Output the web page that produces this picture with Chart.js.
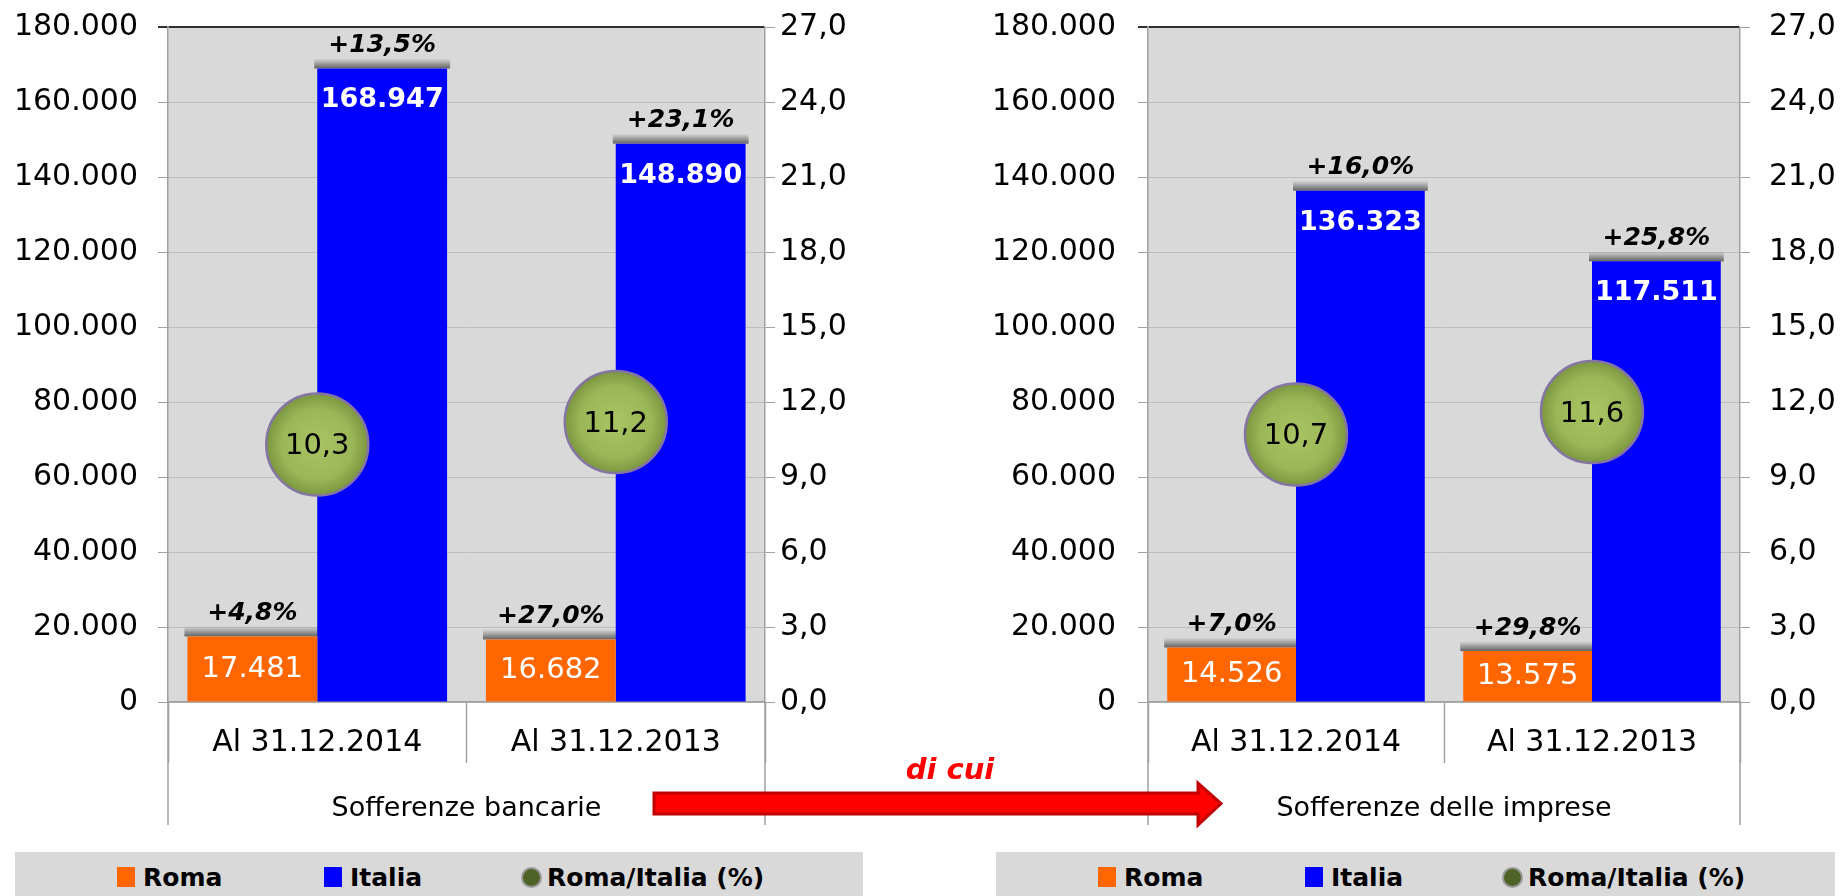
<!DOCTYPE html>
<html>
<head>
<meta charset="utf-8">
<script src="https://cdn.jsdelivr.net/npm/chart.js@4.4.1/dist/chart.umd.min.js"></script>
<style>
  body { margin: 0; width: 1843px; height: 896px; background: #fff; position: relative; overflow: hidden; font-family: 'DejaVu Sans', sans-serif; }
  .panel { position: absolute; top: 0; height: 850px; }
  .legend { position: absolute; top: 852px; height: 44px; background: #d9d9d9; }
  .lg { position: absolute; top: 0; height: 44px; padding-top: 6px; box-sizing: border-box; display: flex; align-items: center; font: bold 25px 'DejaVu Sans', sans-serif; color: #000; white-space: nowrap; }
  .sq { display: inline-block; width: 18px; height: 20px; margin-right: 8px; }
  .dot { display: inline-block; width: 17px; height: 17px; border-radius: 50%; background: #4f6228; border: 2px solid #9a9a9a; margin-right: 5px; }
  #dicui { position: absolute; left: 890px; top: 752px; width: 120px; text-align: center; line-height: 36px; color: #ff0000; font: italic bold 29px 'DejaVu Sans', sans-serif; }
</style>
</head>
<body>
<div class="panel" style="left:0;width:870px"><canvas id="bancarie"></canvas></div>
<div class="panel" style="left:880px;width:963px"><canvas id="imprese"></canvas></div>
<div class="legend" id="legendLeft" style="left:15px;width:848px"></div>
<div class="legend" id="legendRight" style="left:996px;width:839px"></div>
<svg width="1843" height="896" style="position:absolute;left:0;top:0;pointer-events:none">
  <polygon points="654,793 1198,793 1198,783 1221,803.5 1198,825 1198,814 654,814" fill="#ff0000" stroke="#c00000" stroke-width="3"/>
</svg>
<div id="dicui">di cui</div>
<script>
const categories = ['Al 31.12.2014', 'Al 31.12.2013'];
const seriesNames = ['Roma', 'Italia', 'Roma/Italia (%)'];

// Sofferenze bancarie
const bancarieRoma = [17481, 16682];
const bancarieItalia = [168947, 148890];
const bancarieQuota = [10.3, 11.2];
const bancarieVarRoma = ['+4,8%', '+27,0%'];
const bancarieVarItalia = ['+13,5%', '+23,1%'];

// Sofferenze delle imprese
const impreseRoma = [14526, 13575];
const impreseItalia = [136323, 117511];
const impreseQuota = [10.7, 11.6];
const impreseVarRoma = ['+7,0%', '+29,8%'];
const impreseVarItalia = ['+16,0%', '+25,8%'];

const leftMax = 180000, leftStep = 20000;
const rightMax = 27, rightStep = 3;

Chart.defaults.font.family = "'DejaVu Sans', sans-serif";
Chart.defaults.color = '#000';

function fmtThousands(v) {
    return String(Math.round(v)).replace(/\B(?=(\d{3})+(?!\d))/g, '.');
}
function fmtDecimal(v) {
    return v.toFixed(1).replace('.', ',');
}

// shaded green ball, centred on the point the scales give
function ballFill(c) {
    const {chart} = c;
    if (!chart.chartArea || c.raw === undefined) return '#9bbb59';
    const x = chart.scales.x.getPixelForValue(c.dataIndex);
    const y = chart.scales.y1.getPixelForValue(c.raw);
    const g = chart.ctx.createRadialGradient(x, y, 0, x, y, 51);
    g.addColorStop(0, '#a9c463');
    g.addColorStop(0.7, '#9ab656');
    g.addColorStop(1, '#7c9640');
    return g;
}

// grey plot background + frame lines running down past the axis
const plotFrame = {
    id: 'plotFrame',
    beforeDraw(chart) {
        const {ctx, chartArea: a} = chart;
        ctx.save();
        ctx.fillStyle = '#d9d9d9';
        ctx.fillRect(a.left, a.top, a.right - a.left, a.bottom - a.top);
        ctx.restore();
    },
    afterDraw(chart) {
        const {ctx, chartArea: a} = chart;
        ctx.save();
        ctx.strokeStyle = '#a0a0a0';
        ctx.lineWidth = 1.5;
        [a.left, a.right].forEach(x => {
            ctx.beginPath();
            ctx.moveTo(x, a.bottom);
            ctx.lineTo(x, a.bottom + 123);
            ctx.stroke();
        });
        ctx.restore();
    }
};

// soft shadow band on top of each bar
const barShadow = {
    id: 'barShadow',
    beforeDatasetsDraw(chart) {
        const ctx = chart.ctx;
        ctx.save();
        chart.data.datasets.forEach((ds, i) => {
            if (ds.type !== 'bar') return;
            chart.getDatasetMeta(i).data.forEach(bar => {
                const g = ctx.createLinearGradient(0, bar.y - 10, 0, bar.y);
                g.addColorStop(0, 'rgba(70,70,70,0)');
                g.addColorStop(1, 'rgba(70,70,70,0.8)');
                ctx.fillStyle = g;
                ctx.fillRect(bar.x - bar.width / 2 - 3, bar.y - 10, bar.width + 6, 10);
            });
        });
        ctx.restore();
    }
};

const valueLabels = {
    id: 'valueLabels',
    afterDatasetsDraw(chart, args, opts) {
        const ctx = chart.ctx;
        const ds = chart.data.datasets;
        ctx.save();
        ctx.textAlign = 'center';
        ctx.textBaseline = 'middle';
        chart.getDatasetMeta(0).data.forEach((bar, i) => {
            ctx.fillStyle = '#fff';
            ctx.font = "29px 'DejaVu Sans'";
            ctx.fillText(fmtThousands(ds[0].data[i]), bar.x, (bar.y + bar.base) / 2);
            ctx.fillStyle = '#000';
            ctx.font = "italic bold 25px 'DejaVu Sans'";
            ctx.fillText(opts.varRoma[i], bar.x, bar.y - 23);
        });
        chart.getDatasetMeta(1).data.forEach((bar, i) => {
            ctx.fillStyle = '#fff';
            ctx.font = "bold 27px 'DejaVu Sans'";
            ctx.fillText(fmtThousands(ds[1].data[i]), bar.x, bar.y + 32);
            ctx.fillStyle = '#000';
            ctx.font = "italic bold 25px 'DejaVu Sans'";
            ctx.fillText(opts.varItalia[i], bar.x, bar.y - 23);
        });
        chart.getDatasetMeta(2).data.forEach((pt, i) => {
            ctx.fillStyle = '#000';
            ctx.font = "29px 'DejaVu Sans'";
            ctx.fillText(fmtDecimal(ds[2].data[i]), pt.x, pt.y + 2);
        });
        ctx.restore();
    }
};

function drawPanel(id, p) {
    return new Chart(document.getElementById(id), {
        data: {
            labels: categories,
            datasets: [
                {
                    type: 'bar',
                    label: seriesNames[0],
                    data: p.roma,
                    backgroundColor: '#ff6600',
                    yAxisID: 'y',
                    order: 1,
                },
                {
                    type: 'bar',
                    label: seriesNames[1],
                    data: p.italia,
                    backgroundColor: '#0000ff',
                    yAxisID: 'y',
                    order: 1,
                },
                {
                    type: 'line',
                    label: seriesNames[2],
                    data: p.quota,
                    yAxisID: 'y1',
                    showLine: false,
                    pointRadius: 51,
                    pointBackgroundColor: ballFill,
                    pointBorderColor: '#8575a3',
                    pointBorderWidth: 2.5,
                    order: 0,
                }
            ]
        },
        options: {
            responsive: true,
            maintainAspectRatio: false,
            animation: false,
            events: [],
            categoryPercentage: 0.87,
            barPercentage: 1.0,
            layout: {
                autoPadding: false,
                padding: {top: 27, left: 0, right: 0, bottom: 0}
            },
            scales: {
                x: {
                    offset: true,
                    grid: {
                        offset: true,
                        drawOnChartArea: false,
                        tickLength: 61,
                        tickColor: '#a0a0a0',
                        tickWidth: 1.5,
                    },
                    border: {color: '#a0a0a0', width: 1.5},
                    ticks: {
                        padding: -38,
                        font: {size: 30},
                    },
                    title: {
                        display: true,
                        text: p.title,
                        font: {size: 27},
                        padding: {top: 0, bottom: 25},
                    },
                    afterFit: s => {
                        s.height = 148;
                        s.paddingLeft = 0;
                        s.paddingRight = 0;
                    }
                },
                y: {
                    position: 'left',
                    min: 0,
                    max: leftMax,
                    ticks: {
                        stepSize: leftStep,
                        padding: p.leftPad,
                        font: {size: 30},
                        callback: v => fmtThousands(v),
                    },
                    grid: {
                        color: c => c.tick.value === leftMax ? '#303030' : '#bdbdbd',
                        lineWidth: c => c.tick.value === leftMax ? 2 : 1,
                        tickColor: c => c.tick.value === leftMax ? '#303030' : '#a0a0a0',
                        tickLength: 10,
                    },
                    border: {color: '#a0a0a0', width: 1.5},
                    afterFit: s => {
                        s.width = p.leftWidth;
                        s.paddingTop = 0;
                        s.paddingBottom = 0;
                    }
                },
                y1: {
                    position: 'right',
                    min: 0,
                    max: rightMax,
                    ticks: {
                        stepSize: rightStep,
                        padding: p.rightPad,
                        font: {size: 30},
                        callback: v => fmtDecimal(v),
                    },
                    grid: {
                        drawOnChartArea: false,
                        tickLength: 10,
                        tickColor: '#a0a0a0',
                    },
                    border: {color: '#a0a0a0', width: 1.5},
                    afterFit: s => {
                        s.width = p.rightWidth;
                        s.paddingTop = 0;
                        s.paddingBottom = 0;
                    }
                }
            },
            plugins: {
                legend: {display: false},
                tooltip: {enabled: false},
                valueLabels: {varRoma: p.varRoma, varItalia: p.varItalia},
            }
        },
        plugins: [plotFrame, barShadow, valueLabels]
    });
}

function buildLegend(el, chart) {
    const lefts = [102, 309, 506];
    chart.data.datasets.forEach((ds, i) => {
        const item = document.createElement('div');
        item.className = 'lg';
        item.style.left = lefts[i] + 'px';
        const mark = document.createElement('i');
        if (ds.type === 'bar') {
            mark.className = 'sq';
            mark.style.background = ds.backgroundColor;
        } else {
            mark.className = 'dot';
        }
        item.appendChild(mark);
        item.appendChild(document.createTextNode(ds.label));
        el.appendChild(item);
    });
}

const leftChart = drawPanel('bancarie', {
    title: 'Sofferenze bancarie',
    roma: bancarieRoma,
    italia: bancarieItalia,
    quota: bancarieQuota,
    varRoma: bancarieVarRoma,
    varItalia: bancarieVarItalia,
    leftWidth: 168, leftPad: 20,
    rightWidth: 105, rightPad: 5,
});

const rightChart = drawPanel('imprese', {
    title: 'Sofferenze delle imprese',
    roma: impreseRoma,
    italia: impreseItalia,
    quota: impreseQuota,
    varRoma: impreseVarRoma,
    varItalia: impreseVarItalia,
    leftWidth: 268, leftPad: 22,
    rightWidth: 103, rightPad: 19,
});

buildLegend(document.getElementById('legendLeft'), leftChart);
buildLegend(document.getElementById('legendRight'), rightChart);
</script>
</body>
</html>
